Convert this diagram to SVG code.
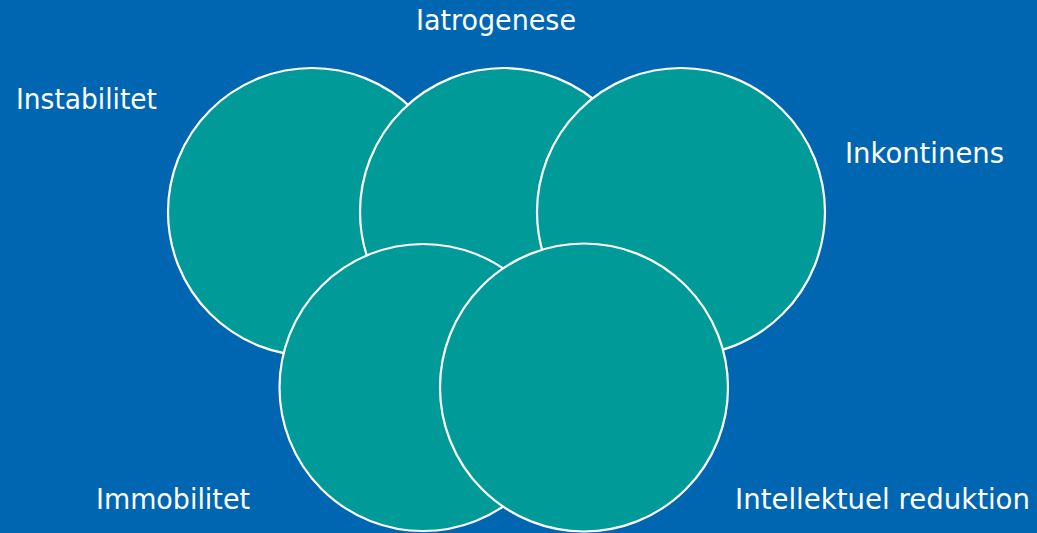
<svg xmlns="http://www.w3.org/2000/svg" width="1037" height="533" viewBox="0 0 1037 533">
<style>
.c{fill:#009A98;stroke:#ffffff;stroke-width:2.2}
.t{font-family:"DejaVu Sans","Liberation Sans",sans-serif;font-size:28px;fill:#ffffff}
</style>
<rect x="0" y="0" width="1037" height="533" fill="#0066B2"/>
<g id="instabilitet"><circle class="c" cx="312" cy="212" r="144"/></g>
<g id="iatrogenese"><circle class="c" cx="504" cy="212" r="144"/></g>
<g id="inkontinens"><circle class="c" cx="681" cy="212" r="144"/></g>
<g id="immobilitet"><circle class="c" cx="423" cy="387.5" r="143.5"/></g>
<g id="intellektuel"><circle class="c" cx="584" cy="387.5" r="144"/></g>
<g id="connectors"></g>
<g id="labels">
<text class="t" x="416" y="30" textLength="160" lengthAdjust="spacingAndGlyphs">Iatrogenese</text>
<text class="t" x="16" y="108.5" textLength="141" lengthAdjust="spacingAndGlyphs">Instabilitet</text>
<text class="t" x="845" y="163" textLength="159" lengthAdjust="spacingAndGlyphs">Inkontinens</text>
<text class="t" x="96" y="508.5" textLength="154" lengthAdjust="spacingAndGlyphs">Immobilitet</text>
<text class="t" x="735" y="508.5" textLength="295" lengthAdjust="spacingAndGlyphs">Intellektuel reduktion</text>
</g>
</svg>
